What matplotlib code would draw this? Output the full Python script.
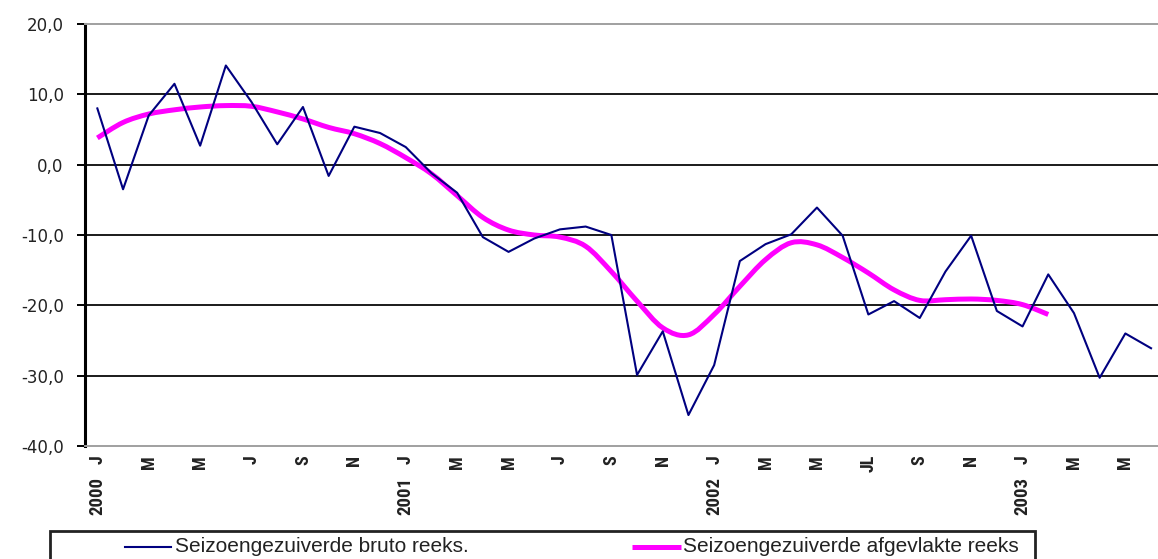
import matplotlib
matplotlib.use("Agg")
import matplotlib.pyplot as plt
from matplotlib import font_manager
from matplotlib.lines import Line2D
from matplotlib.patches import Rectangle, PathPatch
from matplotlib.path import Path

# ---- data -------------------------------------------------------------
# monthly values, January 2000 .. June 2003
raw_series = [8.0, -3.5, 7.0, 11.5, 2.7, 14.1, 8.9, 2.9, 8.2, -1.6, 5.4, 4.5,
              2.5, -1.2, -4.0, -10.3, -12.4, -10.5, -9.2, -8.8, -10.0, -29.9, -23.7, -35.6,
              -28.5, -13.7, -11.3, -9.9, -6.1, -10.1, -21.3, -19.4, -21.8, -15.2, -10.1, -20.8,
              -23.0, -15.6, -21.1, -30.3, -24.0, -26.1]
# smoothed series, January 2000 .. February 2003
smooth_series = [3.8, 6.0, 7.2, 7.8, 8.2, 8.4, 8.3, 7.5, 6.5, 5.3, 4.4, 3.0,
                 1.0, -1.3, -4.4, -7.5, -9.3, -10.0, -10.3, -11.6, -15.2, -19.4, -23.2, -24.2,
                 -21.3, -17.3, -13.5, -11.1, -11.4, -13.2, -15.4, -17.8, -19.3, -19.2, -19.1, -19.3,
                 -19.9, -21.3]
month_labels = ["J", "M", "M", "J", "S", "N",
                "J", "M", "M", "J", "S", "N",
                "J", "M", "M", "JL", "S", "N",
                "J", "M", "M"]
year_labels = ["2000", "2001", "2002", "2003"]
y_ticks = [-40, -30, -20, -10, 0, 10, 20]
legend_labels = ["Seizoengezuiverde bruto reeks.", "Seizoengezuiverde afgevlakte reeks"]

# ---- fonts ------------------------------------------------------------
available = {f.name for f in font_manager.fontManager.ttflist}
narrow = next((n for n in ["Liberation Sans Narrow", "Arial Narrow", "Roboto Condensed"]
               if n in available), "Liberation Sans")

W, H = 1158, 559
fig = plt.figure(figsize=(W / 100, H / 100), dpi=100)
fig.patch.set_facecolor("white")


def fx(px):
    return px / W


def fy(py):
    return 1 - py / H


def smooth_path(xs, ys):
    """Cubic Bezier path through the points (Catmull-Rom style tangents)."""
    n = len(xs)
    verts = [(xs[0], ys[0])]
    codes = [Path.MOVETO]
    for i in range(n - 1):
        x0, y0 = xs[max(i - 1, 0)], ys[max(i - 1, 0)]
        x1, y1 = xs[i], ys[i]
        x2, y2 = xs[i + 1], ys[i + 1]
        x3, y3 = xs[min(i + 2, n - 1)], ys[min(i + 2, n - 1)]
        c1 = (x1 + (x2 - x0) / 6, y1 + (y2 - y0) / 6)
        c2 = (x2 - (x3 - x1) / 6, y2 - (y3 - y1) / 6)
        verts += [c1, c2, (x2, y2)]
        codes += [Path.CURVE4] * 3
    return Path(verts, codes)


left, right, top, bottom = 84.5, 1163.9, 24, 446
ax = fig.add_axes([fx(left), fy(bottom), fx(right - left), fy(top) - fy(bottom)])

x_raw = list(range(len(raw_series)))
x_smooth = list(range(len(smooth_series)))

ax.add_patch(PathPatch(smooth_path(x_smooth, smooth_series), fill=False,
                       ec="#ff00ff", lw=3.6, capstyle="butt", zorder=3))
ax.plot(x_raw, raw_series, color="#000080", lw=1.5, zorder=4)

ax.set_xlim(-0.5, len(raw_series) - 0.5)
ax.set_ylim(min(y_ticks), max(y_ticks))

# gridlines
for v in y_ticks[1:-1]:
    ax.axhline(v, color="#1a1a1a", lw=1.4, zorder=1)

ax.spines["right"].set_visible(False)
ax.spines["top"].set_color("#a0a0a0")
ax.spines["top"].set_linewidth(1.4)
ax.spines["bottom"].set_color("#a0a0a0")
ax.spines["bottom"].set_linewidth(1.4)
ax.spines["left"].set_color("black")
ax.spines["left"].set_linewidth(2.2)

ax.set_yticks(y_ticks)
ax.set_yticklabels([f"{v:.1f}".replace(".", ",") for v in y_ticks],
                   fontsize=12, color="#222222", family="DejaVu Sans")
ax.tick_params(axis="y", direction="out", length=6, width=1.4, pad=9, color="black")
ax.set_xticks([])

# category labels below the axis
for k, lab in enumerate(month_labels):
    ax.annotate(lab, xy=(2 * k, 0), xycoords=("data", "axes fraction"),
                xytext=(0, -9), textcoords="offset pixels",
                rotation=90, ha="center", va="top", fontsize=13,
                family=narrow, fontweight="bold", color="#222222")
for k, lab in enumerate(year_labels):
    ax.annotate(lab, xy=(12 * k, 0), xycoords=("data", "axes fraction"),
                xytext=(0, -31), textcoords="offset pixels",
                rotation=90, ha="center", va="top", fontsize=13.5,
                family=narrow, fontweight="bold", color="#222222")

# legend box
fig.add_artist(Rectangle((fx(50), fy(575)), fx(1035 - 50), fy(531) - fy(575),
                         transform=fig.transFigure, fill=False, ec="#222222", lw=2))
fig.add_artist(Line2D([fx(125), fx(171)], [fy(547), fy(547)], transform=fig.transFigure,
                      color="#000080", lw=1.5))
fig.add_artist(Line2D([fx(632), fx(681)], [fy(547), fy(547)], transform=fig.transFigure,
                      color="#ff00ff", lw=3.6, solid_capstyle="butt"))
fig.text(fx(175), fy(547), legend_labels[0], ha="left", va="center",
         fontsize=15, family="Liberation Sans", color="#222222")
fig.text(fx(683), fy(547), legend_labels[1], ha="left", va="center",
         fontsize=15, family="Liberation Sans", color="#222222")

fig.savefig("out.png", dpi=100, facecolor="white")
